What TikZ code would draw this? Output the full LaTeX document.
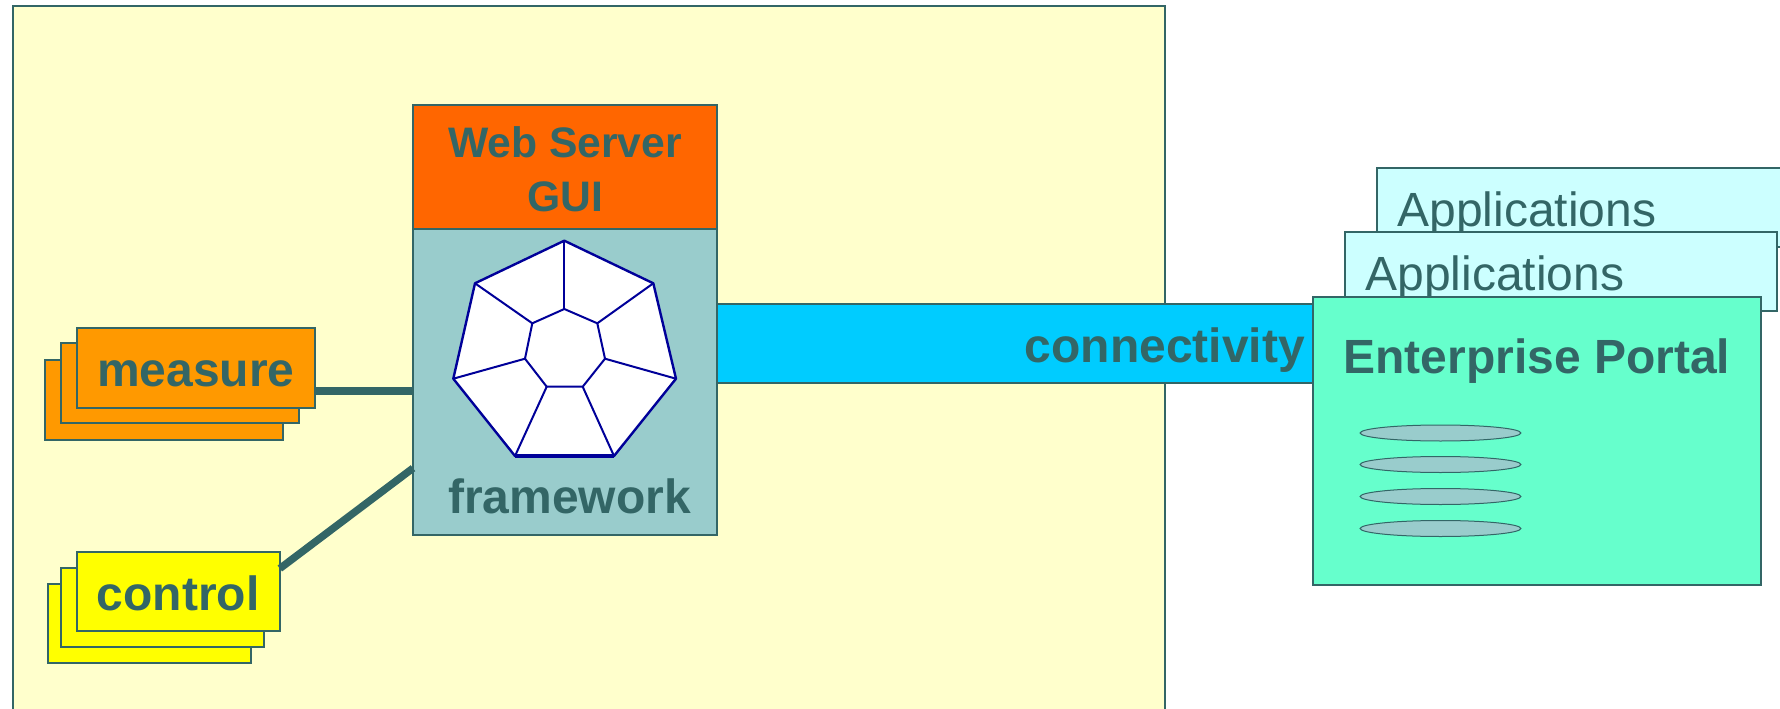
\documentclass[tikz,border=0pt]{standalone}
\usepackage{fontspec}
\setmainfont{Liberation Sans}
\usetikzlibrary{positioning}
\usetikzlibrary{shapes.geometric}
\definecolor{frameline}{HTML}{336666}
\definecolor{panelyellow}{HTML}{FFFFCC}
\definecolor{webred}{HTML}{FF6600}
\definecolor{frameteal}{HTML}{99CCCC}
\definecolor{bandblue}{HTML}{00CCFF}
\definecolor{portalgreen}{HTML}{66FFCC}
\definecolor{appcyan}{HTML}{CCFFFF}
\definecolor{measureorange}{HTML}{FF9900}
\definecolor{controlyellow}{HTML}{FFFF00}
\definecolor{wheelblue}{HTML}{000099}
\tikzset{
	%Define style for boxes
	kast/.style={
		rectangle,
		draw=frameline, line width=1.5pt,
		anchor=north west,
		inner sep=0pt, outer sep=0pt,
		text=frameline},
	% Define style for the stacked boxes
	measurebox/.style={kast,fill=measureorange,minimum width=179pt,minimum height=60pt},
	controlbox/.style={kast,fill=controlyellow,minimum width=152.5pt,minimum height=59.5pt},
	appbox/.style={kast,fill=appcyan},
	% Define text styles
	zwaar/.style={font=\fontsize{36}{40}\selectfont\bfseries},
	tekst/.style={text=frameline,inner sep=0pt,font=\fontsize{36}{40}\selectfont},
	% Define link style
	lijn/.style={draw=frameline,line width=5.6pt},
	wiel/.style={draw=wheelblue,line width=1.5pt,line join=round}
}
\begin{document}
\begin{tikzpicture}[x=0.75pt,y=-0.75pt]
	\clip (0,0) rectangle (1780,709);
	
	\node[kast,fill=panelyellow,minimum width=1152pt*0.75,minimum height=760pt*0.75] (panel) at (13,6) {};
	
	\node[measurebox] (measure3) at (44.5,359.5) {};
	\node[measurebox] (measure2) at (60.5,342.5) {};
	\node[measurebox] (measure1) at (76.5,327.5) {};
	\node[tekst,zwaar] (measurelabel) at ([yshift=-4.5pt]measure1.center) {measure};
	
	\node[controlbox] (control3) at (48,583.5) {};
	\node[controlbox] (control2) at (60.5,567.5) {};
	\node[controlbox] (control1) at (76.5,551.5) {};
	\node[tekst,zwaar] (controllabel) at ([yshift=-1.5pt]control1.center) {control};
	
	\node[kast,fill=bandblue,minimum width=447pt,minimum height=59pt] (band) at (716.5,304) {};
	\node[tekst,zwaar,anchor=east,left=5.5pt of band.east,yshift=-5pt] (connectivity) {connectivity};
	
	\node[kast,fill=frameteal,minimum width=228pt,minimum height=229pt] (framework) at (413,229.5) {};
	\node[tekst,zwaar,above=15.5pt of framework.south,xshift=3.5pt] (frameworklabel) {framework};
	\node[kast,fill=webred,minimum width=228pt,minimum height=93.5pt,anchor=south west] (web) at (framework.north west) {};
	\node[tekst,align=center,yshift=-1.5pt,font=\fontsize{32}{40}\selectfont\bfseries] (weblabel) at (web.center) {Web Server\\GUI};
	
	\draw[lijn] ([yshift=-17.5pt]measure1.east) -- ([yshift=-17.5pt]measure1.east -| framework.west);
	\draw[lijn] ([yshift=17pt]control1.east) -- ([yshift=-64.5pt]framework.west);
	
	% Wheel in the framework box
	\foreach \i/\px/\py in {1/564.3/240.7,2/653.3/283.3,3/676/378.7,4/614/456,5/515/456,6/453.3/378.7,7/475/283.3}
		\coordinate (rim\i) at (\px,\py);
	\foreach \i/\px/\py in {1/564.3/309,2/597.3/323.3,3/605/358.7,4/582.7/386.7,5/546.7/386.7,6/525/358.7,7/532.3/323.3}
		\coordinate (hub\i) at (\px,\py);
	\draw[wiel,fill=white,line width=1.8pt] (rim1) -- (rim2) -- (rim3) -- (rim4) -- (rim5) -- (rim6) -- (rim7) -- cycle;
	\draw[wiel] (hub1) -- (hub2) -- (hub3) -- (hub4) -- (hub5) -- (hub6) -- (hub7) -- cycle;
	\foreach \i in {1,...,7}
		\draw[wiel] (rim\i) -- (hub\i);
	\draw[wiel,line width=2.6pt] (rim4) -- (rim5);
	
	\node[appbox,minimum width=320pt,minimum height=59pt] (app2) at (1376.5,168) {};
	\node[tekst,below right=17.25pt and 15.5pt of app2.north west] (app2label) {Applications};
	\node[appbox,minimum width=324.5pt,minimum height=59pt] (app1) at (1344.5,232.5) {};
	\node[tekst,below right=17.25pt and 15.5pt of app1.north west] (app1label) {Applications};
	
	\node[kast,fill=portalgreen,minimum width=336.5pt,minimum height=216.5pt] (portal) at (1312.5,296.5) {};
	\node[tekst,zwaar,below=31.5pt of portal.north] (portallabel) {Enterprise Portal};
	
	\foreach \n/\py in {1/433,2/464.5,3/496.5,4/528.5}
		\node[ellipse,draw=frameline,line width=0.75pt,fill=frameteal,minimum width=120.5pt,minimum height=12pt,inner sep=0pt] (disk\n) at (1440.5,\py) {};
	
\end{tikzpicture}
\end{document}
